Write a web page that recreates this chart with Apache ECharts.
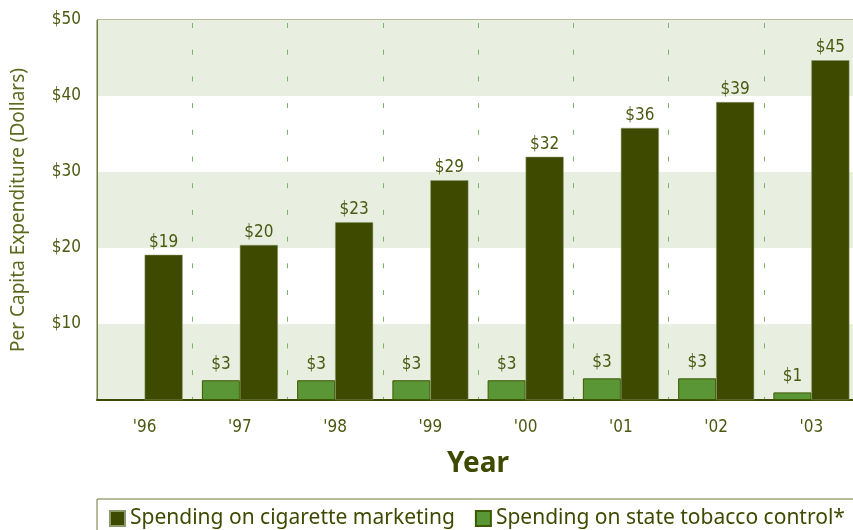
<!DOCTYPE html>
<html>
<head>
<meta charset="utf-8">
<script src="https://cdn.jsdelivr.net/npm/echarts@6/dist/echarts.min.js"></script>
<style>
html,body{margin:0;padding:0;background:#fff;}
#c{width:853px;height:530px;}
</style>
</head>
<body>
<div id="c"></div>
<script>
var categories = ["'96", "'97", "'98", "'99", "'00", "'01", "'02", "'03"];
var marketing = [19.1, 20.4, 23.4, 28.9, 32.0, 35.8, 39.2, 44.7];
var tobaccoControl = [null, 2.6, 2.6, 2.6, 2.6, 2.85, 2.85, 1.0];
var yTicks = [0, 10, 20, 30, 40, 50];

var condensed = "'DejaVu Sans Condensed', 'DejaVu Sans', sans-serif";
var condWeight = 'condensed';
var olive = '#4b5a12';

var chart = echarts.init(document.getElementById('c'));
chart.setOption({
  animation: false,
  graphic: [{
    type: 'rect',
    shape: {x: 97, y: 499, width: 770, height: 50},
    style: {fill: 'none', stroke: '#6b7a3a', lineWidth: 1}
  }],
  legend: {
    data: ['Spending on cigarette marketing', 'Spending on state tobacco control*'],
    left: 104, top: 503,
    itemWidth: 15, itemHeight: 15, itemGap: 20,
    icon: 'rect',
    textStyle: {fontFamily: "'Noto Sans', sans-serif", fontSize: 21, color: '#3d4a00'}
  },
  grid: {left: 97, top: 20, width: 762, height: 380, outerBoundsMode: 'none', containLabel: false, show: true, borderColor: '#6b7a3a', borderWidth: 1, backgroundColor: 'transparent'},
  xAxis: {
    type: 'category',
    data: categories,
    name: 'Year',
    nameLocation: 'middle',
    nameGap: 50,
    nameTextStyle: {fontFamily: "'Noto Sans', sans-serif", fontSize: 28, fontWeight: 'bold', color: '#3d4a00'},
    axisLine: {lineStyle: {color: '#3d4a00', width: 2}},
    axisTick: {show: false},
    axisLabel: {fontFamily: condensed, fontWeight: condWeight, fontSize: 17, color: olive, margin: 19},
    splitLine: {show: true, lineStyle: {color: '#7cb36a', width: 1, type: [5, 21.7], dashOffset: -3}}
  },
  yAxis: {
    type: 'value',
    min: 0, max: 50, interval: 10,
    name: 'Per Capita Expenditure (Dollars)',
    nameLocation: 'middle',
    nameGap: 69,
    nameTextStyle: {fontFamily: "'Noto Sans', sans-serif", fontSize: 19, color: '#5a6b1f'},
    axisLine: {show: true, lineStyle: {color: '#6b7a3a', width: 1}},
    axisTick: {show: false},
    axisLabel: {
      fontFamily: condensed, fontWeight: condWeight, fontSize: 17, color: olive, margin: 16,
      formatter: function (v) { return yTicks.indexOf(v) > 0 ? '$' + v : ''; }
    },
    splitLine: {show: false},
    splitArea: {show: true, areaStyle: {color: ['#e8eee0', '#ffffff']}}
  },
  series: [
    {
      name: 'Spending on state tobacco control*',
      type: 'bar',
      data: tobaccoControl,
      barWidth: 38,
      barGap: '0%',
      itemStyle: {color: '#5a9636', borderColor: '#3d5a00', borderWidth: 1},
      label: {show: true, position: 'top', distance: 7, fontFamily: condensed, fontWeight: condWeight, fontSize: 17, color: olive,
        formatter: function (p) { return '$' + Math.round(p.value); }}
    },
    {
      name: 'Spending on cigarette marketing',
      type: 'bar',
      data: marketing,
      barWidth: 38,
      barGap: '0%',
      itemStyle: {color: '#3d4a00', borderColor: '#8a9a6a', borderWidth: 0.5},
      label: {show: true, position: 'top', distance: 4, fontFamily: condensed, fontWeight: condWeight, fontSize: 17, color: olive,
        formatter: function (p) { return '$' + Math.round(p.value); }}
    }
  ]
});
</script>
</body>
</html>
